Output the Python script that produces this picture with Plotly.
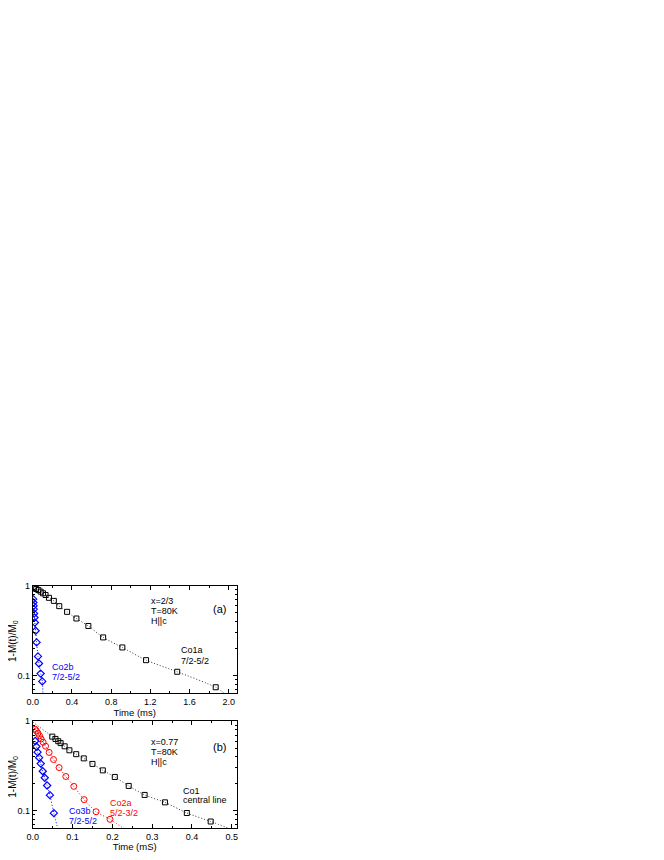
import plotly.graph_objects as go

# ---------------- data: panel (a) ----------------
co1a_t = [0.013, 0.035, 0.057, 0.080, 0.104, 0.130, 0.165, 0.215, 0.270, 0.350, 0.445, 0.567, 0.718, 0.914, 1.156, 1.474, 1.867]
co1a_m = [0.935, 0.915, 0.89, 0.855, 0.82, 0.785, 0.73, 0.675, 0.59, 0.51, 0.43, 0.355, 0.265, 0.205, 0.148, 0.11, 0.074]
co1a_fit_t = [0.0] + co1a_t + [2.0]
co1a_fit_m = [0.96] + co1a_m + [0.058]

co2b_t = [0.004, 0.006, 0.008, 0.010, 0.013, 0.017, 0.021, 0.029, 0.039, 0.053, 0.063, 0.080, 0.097]
co2b_m = [0.705, 0.647, 0.595, 0.546, 0.489, 0.441, 0.388, 0.314, 0.233, 0.163, 0.136, 0.105, 0.086]
co2b_fit_t = co2b_t + [0.104]
co2b_fit_m = co2b_m + [0.06]

# ---------------- data: panel (b) ----------------
co1_t = [0.049, 0.057, 0.064, 0.070, 0.080, 0.092, 0.109, 0.128, 0.150, 0.176, 0.206, 0.241, 0.281, 0.332, 0.387, 0.447]
co1_m = [0.672, 0.633, 0.597, 0.568, 0.523, 0.472, 0.427, 0.383, 0.332, 0.281, 0.237, 0.188, 0.149, 0.123, 0.0934, 0.075]
co1_fit_t = [0.0] + co1_t + [0.50]
co1_fit_m = [0.98] + co1_m + [0.061]

co2a_t = [0.006, 0.009, 0.013, 0.017, 0.021, 0.026, 0.032, 0.041, 0.052, 0.066, 0.083, 0.103, 0.129, 0.159, 0.194]
co2a_m = [0.813, 0.780, 0.735, 0.686, 0.632, 0.581, 0.525, 0.447, 0.372, 0.302, 0.240, 0.186, 0.132, 0.0966, 0.0794]
co2a_fit_t = co2a_t + [0.23]
co2a_fit_m = co2a_m + [0.062]

co3b_t = [0.006, 0.009, 0.012, 0.016, 0.020, 0.025, 0.030, 0.036, 0.043, 0.053]
co3b_m = [0.60, 0.52, 0.45, 0.39, 0.335, 0.275, 0.232, 0.19, 0.148, 0.093]
co3b_fit_t = co3b_t + [0.063]
co3b_fit_m = co3b_m + [0.062]

xa_ticks = [0.0, 0.4, 0.8, 1.2, 1.6, 2.0]
xb_ticks = [0.0, 0.1, 0.2, 0.3, 0.4, 0.5]

# ---------------- layout helpers ----------------
# The page body has an 8 px margin, so the figure is sized to fit inside it
OFF = 8
W, H = 664 - 2 * OFF, 860 - 2 * OFF
FONT = "Liberation Sans, Arial, sans-serif"
BLACK, BLUE, RED, GREY = "#000000", "#0000ff", "#ff0000", "#333333"


def px(x):
    return (x - OFF) / W


def py(y):
    return 1 - (y - OFF) / H


fig = go.Figure()


def add_series(t, m, xa, ya, symbol, color, size, lw, name):
    fig.add_trace(go.Scatter(x=t, y=m, xaxis=xa, yaxis=ya, mode="markers", name=name,
                             marker=dict(symbol=symbol, size=size, color=color,
                                         line=dict(color=color, width=lw)),
                             showlegend=False))


def add_fit(t, m, xa, ya, color):
    fig.add_trace(go.Scatter(x=t, y=m, xaxis=xa, yaxis=ya, mode="lines",
                             line=dict(color=color, width=1, dash="1px,2px", shape="spline", smoothing=0.6),
                             showlegend=False, hoverinfo="skip"))


# fits first (under markers)
add_fit(co1a_fit_t, co1a_fit_m, "x", "y", GREY)
add_fit(co2b_fit_t, co2b_fit_m, "x", "y", BLUE)
add_fit(co1_fit_t, co1_fit_m, "x2", "y2", GREY)
add_fit(co2a_fit_t, co2a_fit_m, "x2", "y2", RED)
add_fit(co3b_fit_t, co3b_fit_m, "x2", "y2", BLUE)

add_series(co1a_t, co1a_m, "x", "y", "square-open", BLACK, 5, 1, "Co1a")
add_series(co2b_t, co2b_m, "x", "y", "diamond-open", BLUE, 5.5, 1.2, "Co2b")
add_series(co1_t, co1_m, "x2", "y2", "square-open", BLACK, 5, 1, "Co1")
add_series(co2a_t, co2a_m, "x2", "y2", "circle-open", RED, 6, 1, "Co2a")
add_series(co3b_t, co3b_m, "x2", "y2", "diamond-open", BLUE, 5.5, 1.2, "Co3b")

tickfont = dict(family=FONT, size=9, color="black")
xdom = [px(27), px(233)]
ymajor = [0.1, 1]
yminor = [0.07, 0.08, 0.09, 0.2, 0.3, 0.4, 0.5, 0.6, 0.7, 0.8, 0.9]

common_x = dict(showline=True, linecolor="black", linewidth=1, mirror="ticks", ticks="inside",
                ticklen=4, tickwidth=1, tickcolor="black", showgrid=False, zeroline=False,
                tickfont=tickfont)
common_y = dict(type="log", range=[-1.2, 0], showline=True, linecolor="black", linewidth=1,
                mirror="ticks", ticks="inside", ticklen=4, tickwidth=1, tickcolor="black",
                showgrid=False, zeroline=False, tickfont=tickfont,
                tickvals=ymajor, ticktext=["0.1", "1"],
                minor=dict(tickvals=yminor, ticks="inside", ticklen=2, tickcolor="black", showgrid=False))

fig.update_layout(
    width=W, height=H, margin=dict(l=0, r=0, t=0, b=0),
    paper_bgcolor="white", plot_bgcolor="white",
    font=dict(family=FONT, size=9, color="black"),
    xaxis=dict(domain=xdom, anchor="y", range=[0, 2.08], tickvals=xa_ticks,
               ticktext=[f"{v:.1f}" for v in xa_ticks],
               minor=dict(dtick=0.2, ticks="inside", ticklen=2, tickcolor="black", showgrid=False),
               title=dict(text="Time (ms)", font=dict(family=FONT, size=9.5), standoff=3),
               **common_x),
    yaxis=dict(domain=[py(695), py(586)], anchor="x", **common_y),
    xaxis2=dict(domain=xdom, anchor="y2", range=[0, 0.512], tickvals=xb_ticks,
                ticktext=[f"{v:.1f}" for v in xb_ticks],
                minor=dict(dtick=0.05, ticks="inside", ticklen=2, tickcolor="black", showgrid=False),
                title=dict(text="Time (mS)", font=dict(family=FONT, size=9.5), standoff=3),
                **common_x),
    yaxis2=dict(domain=[py(831), py(723)], anchor="x2", **common_y),
)


def ann(text, x, y, color="black", size=9, xanchor="left", angle=0):
    fig.add_annotation(text=text, x=px(x), y=py(y), xref="paper", yref="paper",
                       xanchor=xanchor, yanchor="middle", showarrow=False, textangle=angle,
                       font=dict(family=FONT, size=size, color=color))


# y axis titles
ann("1-M(t)/M<sub>0</sub>", 7, 642, size=10, xanchor="center", angle=-90)
ann("1-M(t)/M<sub>0</sub>", 7, 779, size=10, xanchor="center", angle=-90)

# panel (a) texts
ann("x=2/3", 144, 602)
ann("T=80K", 144, 612)
ann("H||c", 144, 622)
ann("(a)", 216, 610, size=11, xanchor="center")
ann("Co1a", 175, 651)
ann("7/2-5/2", 175, 662)
ann("Co2b", 44, 668, color=BLUE)
ann("7/2-5/2", 44, 678, color=BLUE)

# panel (b) texts
ann("x=0.77", 144, 744)
ann("T=80K", 144, 754)
ann("H||c", 144, 764)
ann("(b)", 216, 749, size=11, xanchor="center")
ann("Co1", 177, 793)
ann("central line", 177, 803)
ann("Co2a", 103, 806, color=RED)
ann("5/2-3/2", 103, 816, color=RED)
ann("Co3b", 62, 814, color=BLUE)
ann("7/2-5/2", 62, 824, color=BLUE)

fig.write_html("out.html")
